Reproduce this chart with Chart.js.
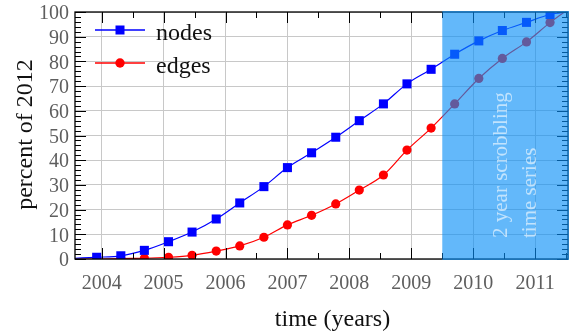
<!DOCTYPE html>
<html><head><meta charset="utf-8">
<script src="https://cdn.jsdelivr.net/npm/chart.js@4/dist/chart.umd.min.js"></script>
<style>html,body{margin:0;padding:0;background:#fff}#wrap{width:574px;height:334px;position:relative}</style>
</head><body><div id="wrap"><canvas id="c" width="574" height="334"></canvas></div>
<script>
// sampled times (decimal years) of the markers
const times = [2003.92, 2004.31, 2004.69, 2005.08, 2005.46, 2005.85, 2006.23, 2006.62, 2007.00, 2007.39,
               2007.78, 2008.16, 2008.55, 2008.93, 2009.32, 2009.70, 2010.09, 2010.47, 2010.86, 2011.24];
const nodes = [0.7, 1.3, 3.5, 7.0, 10.9, 16.2, 22.7, 29.3, 37.0, 43.0,
               49.3, 56.0, 62.8, 70.9, 76.8, 82.9, 88.3, 92.5, 95.8, 99.0];
const edges = [0.0, 0.2, 0.3, 0.7, 1.5, 3.2, 5.3, 8.8, 13.8, 17.7,
               22.3, 27.9, 34.0, 44.1, 53.0, 62.8, 73.1, 81.2, 87.9, 95.7];
// curve ends (no marker) at the axis limits
const lineEnds = [2003.57, 2011.53];
const nodesEnds = [0.3, 100.0];
const edgesEnds = [0.0, 101.0];
const yearTicks = [2004, 2005, 2006, 2007, 2008, 2009, 2010, 2011];
const shadeStart = 2009.5;
const seriesNames = ['nodes', 'edges'];
const shadeText = ['2 year scrobbling', 'time series'];
const xTitle = 'time (years)';
const yTitle = 'percent of 2012';

function build(vals, ends) {
  return [{x: lineEnds[0], y: ends[0]}, ...times.map((t, i) => ({x: t, y: vals[i]})), {x: lineEnds[1], y: ends[1]}];
}
const FONT = '"Liberation Serif", "Times New Roman", serif';
const n = times.length;
const radiusFn = r => ctx => (ctx.dataIndex === 0 || ctx.dataIndex === n + 1) ? 0 : r;

const decor = {
  id: 'decor',
  afterDatasetsDraw(chart) {
    const {ctx, chartArea: {left, right, top, bottom}, scales: {x, y}} = chart;
    ctx.save();
    // ticks
    ctx.strokeStyle = '#000';
    ctx.lineWidth = 1;
    ctx.beginPath();
    for (let v = 2003.5; v <= 2011.51; v += 0.5) {
      const px = Math.round(x.getPixelForValue(v)) + 0.5;
      if (px < left || px > right) continue;
      const len = Math.abs(v - Math.round(v)) < 1e-6 ? 11 : 6;
      ctx.moveTo(px, bottom); ctx.lineTo(px, bottom - len);
      ctx.moveTo(px, top); ctx.lineTo(px, top + len);
    }
    for (let v = 0; v <= 100; v += 2) {
      const py = Math.round(y.getPixelForValue(v)) + 0.5;
      const len = v % 10 === 0 ? 11 : 6;
      ctx.moveTo(left, py); ctx.lineTo(left + len, py);
      ctx.moveTo(right, py); ctx.lineTo(right - len, py);
    }
    ctx.stroke();
    ctx.lineWidth = 1.3;
    ctx.strokeRect(left, top, right - left, bottom - top);
    // shaded region
    const sx = x.getPixelForValue(shadeStart);
    ctx.fillStyle = 'rgba(8,143,247,0.63)';
    ctx.fillRect(sx, top - 1, right + 1 - sx, bottom - top + 2);
    // rotated text in shade
    ctx.fillStyle = 'rgba(255,255,255,0.6)';
    ctx.font = '21px ' + FONT;
    ctx.textAlign = 'left';
    ctx.textBaseline = 'alphabetic';
    shadeText.forEach((t, i) => {
      ctx.save();
      ctx.translate(sx + 65 + i * 28.5, bottom - 21);
      ctx.rotate(-Math.PI / 2);
      ctx.fillText(t, 0, 0);
      ctx.restore();
    });
    // legend
    const ds = chart.data.datasets;
    ds.forEach((d, i) => {
      const ly = top + 18 + i * 33;
      ctx.strokeStyle = d.borderColor;
      ctx.lineWidth = 1.3;
      ctx.beginPath(); ctx.moveTo(left + 20, ly); ctx.lineTo(left + 70, ly); ctx.stroke();
      ctx.fillStyle = d.backgroundColor;
      if (d.pointStyle === 'rect') ctx.fillRect(left + 45 - 4.5, ly - 4.5, 9, 9);
      else { ctx.beginPath(); ctx.arc(left + 45, ly, 4.7, 0, Math.PI * 2); ctx.fill(); }
      ctx.fillStyle = '#111';
      ctx.font = '24px ' + FONT;
      ctx.textAlign = 'left';
      ctx.textBaseline = 'alphabetic';
      ctx.fillText(d.label, left + 81, ly + 10);
    });
    // axis titles
    ctx.fillStyle = '#111';
    ctx.font = '24px ' + FONT;
    ctx.textAlign = 'center';
    ctx.textBaseline = 'alphabetic';
    ctx.fillText(xTitle, 332.5, 326);
    ctx.save();
    ctx.translate(32, (top + bottom) / 2 - 1);
    ctx.rotate(-Math.PI / 2);
    ctx.fillText(yTitle, 0, 0);
    ctx.restore();
    ctx.restore();
  }
};

new Chart(document.getElementById('c'), {
  type: 'line',
  data: {
    datasets: [
      {label: seriesNames[0], data: build(nodes, nodesEnds), borderColor: '#0000ff', backgroundColor: '#0000ff',
       pointStyle: 'rect', pointRadius: radiusFn(6.4), pointBorderWidth: 0, borderWidth: 1.2,
       cubicInterpolationMode: 'monotone', clip: 0},
      {label: seriesNames[1], data: build(edges, edgesEnds), borderColor: '#ff0000', backgroundColor: '#ff0000',
       pointStyle: 'circle', pointRadius: radiusFn(4.6), pointBorderWidth: 0, borderWidth: 1.2,
       cubicInterpolationMode: 'monotone', clip: 0}
    ]
  },
  options: {
    responsive: false, animation: false, devicePixelRatio: 1,
    layout: {padding: {top: 12, right: 6, left: 0, bottom: 0}},
    plugins: {legend: {display: false}, tooltip: {enabled: false}},
    elements: {point: {hoverRadius: 0}},
    scales: {
      x: {
        type: 'linear', min: lineEnds[0], max: lineEnds[1],
        afterBuildTicks: s => { s.ticks = yearTicks.map(v => ({value: v})); },
        afterFit: s => { s.height = 75; s.paddingLeft = 0; s.paddingRight = 0; },
        ticks: {callback: v => String(v), font: {family: FONT, size: 20}, color: '#5e5e5e', padding: 13,
                maxRotation: 0, autoSkip: false},
        grid: {color: '#c8c8c8', lineWidth: 1, drawTicks: false},
        border: {display: false}
      },
      y: {
        min: 0, max: 100,
        afterFit: s => { s.width = 75; s.paddingTop = 0; s.paddingBottom = 0; },
        ticks: {stepSize: 10, font: {family: FONT, size: 20}, color: '#5e5e5e', padding: 6, autoSkip: false, labelOffset: 2},
        grid: {color: '#c8c8c8', lineWidth: 1, drawTicks: false},
        border: {display: false}
      }
    }
  },
  plugins: [decor]
});
</script>
</body></html>
